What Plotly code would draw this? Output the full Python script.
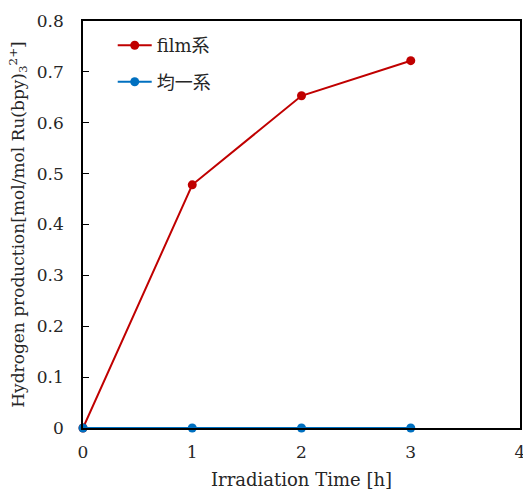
import plotly.graph_objects as go

time_h = [0, 1, 2, 3]
film = [0, 0.478, 0.653, 0.722]
homog = [0, 0, 0, 0]
x_ticks = [0, 1, 2, 3, 4]
y_ticks = [0, 0.1, 0.2, 0.3, 0.4, 0.5, 0.6, 0.7, 0.8]
y_tick_labels = ["0", "0.1", "0.2", "0.3", "0.4", "0.5", "0.6", "0.7", "0.8"]

font_family = "DejaVu Serif, Noto Sans CJK JP, serif"

fig = go.Figure()
fig.add_trace(go.Scatter(x=time_h, y=film, mode="lines+markers", name="film系",
                         legendgroup="a",
                         line=dict(color="#C00000", width=2),
                         marker=dict(color="#C00000", size=9), cliponaxis=False))
fig.add_trace(go.Scatter(x=time_h, y=homog, mode="lines+markers", name="均一系",
                         legendgroup="b",
                         line=dict(color="#0070C0", width=2),
                         marker=dict(color="#0070C0", size=9), cliponaxis=False))

fig.update_layout(
    width=523, height=495,
    margin=dict(l=83, r=3, t=21, b=67),
    paper_bgcolor="white", plot_bgcolor="white",
    font=dict(family=font_family, size=17, color="#262626"),
    showlegend=True,
    legend=dict(x=0.068, y=0.985, xanchor="left", yanchor="top",
                bgcolor="rgba(0,0,0,0)", font=dict(size=18, color="#262626"),
                itemwidth=34, tracegroupgap=10),
    xaxis=dict(range=[0, 4], tickvals=x_ticks, showgrid=False, zeroline=False,
               automargin=False,
               showline=True, linecolor="black", linewidth=1.5, mirror=True,
               ticks="", ticklen=0, ticklabelstandoff=8, ticklabeloverflow="allow",
               title=dict(text="Irradiation Time [h]", font=dict(size=18), standoff=12)),
    yaxis=dict(range=[0, 0.8], tickvals=y_ticks, ticktext=y_tick_labels,
               showgrid=False, zeroline=False, automargin=False,
               showline=True, linecolor="black", linewidth=1.5, mirror=True,
               ticks="inside", ticklen=6, tickcolor="black", ticklabelstandoff=14,
               title=dict(text="Hydrogen production[mol/mol Ru(bpy)<sub>3</sub><sup>2+</sup>]",
                          font=dict(size=17), standoff=8)),
)

fig.write_html("out.html", config={"displayModeBar": False},
               post_script="document.body.style.margin='0';document.body.style.overflow='hidden';")
